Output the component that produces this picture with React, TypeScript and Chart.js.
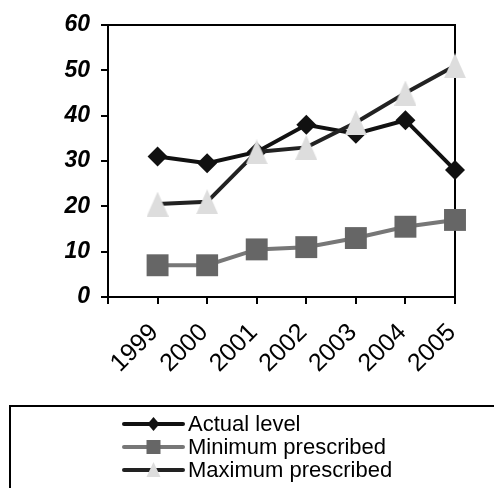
import React, { useEffect, useRef } from "react";
import { Chart, registerables } from "chart.js";

Chart.register(...registerables);

// Years on the horizontal axis
const years = [1999, 2000, 2001, 2002, 2003, 2004, 2005];

// Series values (per cent)
const actualLevel = [31, 29.5, 32, 38, 36, 39, 28];
const minimumPrescribed = [7, 7, 10.5, 11, 13, 15.5, 17];
const maximumPrescribed = [20.5, 21, 32, 33, 38.5, 45, 51];

const seriesNames = ["Actual level", "Minimum prescribed", "Maximum prescribed"];

const yTicks = { min: 0, max: 60, step: 10 };

const FONT = "'Liberation Sans', Arial, sans-serif";

const W = 494;
const H = 488;

// Isosceles triangle marker (slightly taller than wide)
function makeTriangle(w: number, h: number, fill: string): HTMLCanvasElement {
  const c = document.createElement("canvas");
  c.width = w;
  c.height = h;
  const ctx = c.getContext("2d")!;
  ctx.fillStyle = fill;
  ctx.beginPath();
  ctx.moveTo(w / 2, 0);
  ctx.lineTo(w, h);
  ctx.lineTo(0, h);
  ctx.closePath();
  ctx.fill();
  return c;
}

// Frame around the plot area, drawn beneath the series
const framePlugin = {
  id: "plotFrame",
  beforeDatasetsDraw(chart: any) {
    const { ctx, chartArea } = chart;
    ctx.save();
    ctx.strokeStyle = "#000";
    ctx.lineWidth = 2;
    ctx.strokeRect(chartArea.left, chartArea.top, chartArea.right - chartArea.left, chartArea.bottom - chartArea.top);
    ctx.restore();
  },
};

function drawMarker(ctx: CanvasRenderingContext2D, kind: string, x: number, y: number, fill: string) {
  ctx.fillStyle = fill;
  ctx.beginPath();
  if (kind === "diamond") {
    ctx.moveTo(x, y - 7);
    ctx.lineTo(x + 6, y);
    ctx.lineTo(x, y + 7);
    ctx.lineTo(x - 6, y);
  } else if (kind === "square") {
    ctx.rect(x - 7, y - 7, 14, 14);
  } else {
    ctx.moveTo(x, y - 8);
    ctx.lineTo(x + 7, y + 7);
    ctx.lineTo(x - 7, y + 7);
  }
  ctx.closePath();
  ctx.fill();
}

// Boxed legend below the axis labels: line sample with marker, then the name
const legendPlugin = {
  id: "boxLegend",
  afterDraw(chart: any) {
    const { ctx } = chart;
    const boxLeft = 10;
    const boxTop = 406;
    ctx.save();
    ctx.strokeStyle = "#000";
    ctx.lineWidth = 2;
    ctx.strokeRect(boxLeft, boxTop, W + 20, H);

    const entries = [
      { name: seriesNames[0], line: "#111111", marker: "diamond", fill: "#111111" },
      { name: seriesNames[1], line: "#777777", marker: "square", fill: "#666666" },
      { name: seriesNames[2], line: "#222222", marker: "triangle", fill: "#dddddd" },
    ];
    const rowY = [424, 447, 470];
    const x0 = 124;
    const x1 = 183;
    ctx.font = `22px ${FONT}`;
    ctx.textBaseline = "middle";
    ctx.textAlign = "left";
    entries.forEach((e, i) => {
      const y = rowY[i];
      ctx.strokeStyle = e.line;
      ctx.lineWidth = 4;
      ctx.lineCap = "round";
      ctx.beginPath();
      ctx.moveTo(x0, y);
      ctx.lineTo(x1, y);
      ctx.stroke();
      drawMarker(ctx, e.marker, (x0 + x1) / 2, y, e.fill);
      ctx.fillStyle = "#000";
      ctx.fillText(e.name, 188, y + 1);
    });
    ctx.restore();
  },
};

export default function App() {
  const canvasRef = useRef<HTMLCanvasElement | null>(null);

  useEffect(() => {
    const canvas = canvasRef.current;
    if (!canvas) return;
    const triangle = makeTriangle(22, 25, "#dddddd");

    const toPoints = (vals: number[]) => vals.map((v, i) => ({ x: years[i], y: v }));

    const chart = new Chart(canvas, {
      type: "line",
      data: {
        datasets: [
          {
            label: seriesNames[0],
            data: toPoints(actualLevel),
            borderColor: "#111111",
            backgroundColor: "#111111",
            borderWidth: 4,
            pointStyle: "rectRot",
            pointRadius: 10,
            pointBorderWidth: 0,
            pointBackgroundColor: "#111111",
            order: 2,
            clip: false,
          },
          {
            label: seriesNames[1],
            data: toPoints(minimumPrescribed),
            borderColor: "#777777",
            backgroundColor: "#666666",
            borderWidth: 4,
            pointStyle: "rect",
            pointRadius: 15.5,
            pointBorderWidth: 0,
            pointBackgroundColor: "#666666",
            order: 1,
            clip: false,
          },
          {
            label: seriesNames[2],
            data: toPoints(maximumPrescribed),
            borderColor: "#222222",
            backgroundColor: "#dddddd",
            borderWidth: 4,
            pointStyle: triangle as any,
            pointRadius: 12,
            pointBorderWidth: 0,
            order: 0,
            clip: false,
          },
        ],
      },
      options: {
        responsive: false,
        animation: false,
        events: [],
        layout: { padding: { top: 25, right: 39, left: 0, bottom: 0 } },
        plugins: {
          legend: { display: false },
          tooltip: { enabled: false },
        },
        scales: {
          x: {
            type: "linear",
            min: years[0] - 1,
            max: years[years.length - 1],
            border: { display: false },
            grid: {
              drawOnChartArea: false,
              drawTicks: true,
              tickLength: 7,
              color: "#000",
              lineWidth: 2,
            },
            ticks: {
              stepSize: 1,
              autoSkip: false,
              minRotation: 45,
              maxRotation: 45,
              padding: 14,
              labelOffset: -3,
              color: "#000",
              font: { family: FONT, size: 25 },
              callback: (v: any) => (years.includes(Number(v)) ? String(v) : ""),
            },
            afterFit: (scale: any) => {
              scale.height = H - 297;
            },
          },
          y: {
            min: yTicks.min,
            max: yTicks.max,
            border: { display: false },
            grid: {
              drawOnChartArea: false,
              drawTicks: true,
              tickLength: 7,
              color: "#000",
              lineWidth: 2,
            },
            ticks: {
              stepSize: yTicks.step,
              padding: 11,
              color: "#000",
              font: { family: FONT, size: 23, weight: "bold", style: "italic" },
            },
            afterFit: (scale: any) => {
              scale.width = 108;
            },
          },
        },
      },
      plugins: [framePlugin, legendPlugin],
    });

    return () => chart.destroy();
  }, []);

  return (
    <div style={{ position: "fixed", left: 0, top: 0, width: W, height: H, background: "#fff" }}>
      <canvas ref={canvasRef} width={W} height={H} style={{ width: W, height: H, display: "block" }} />
    </div>
  );
}
